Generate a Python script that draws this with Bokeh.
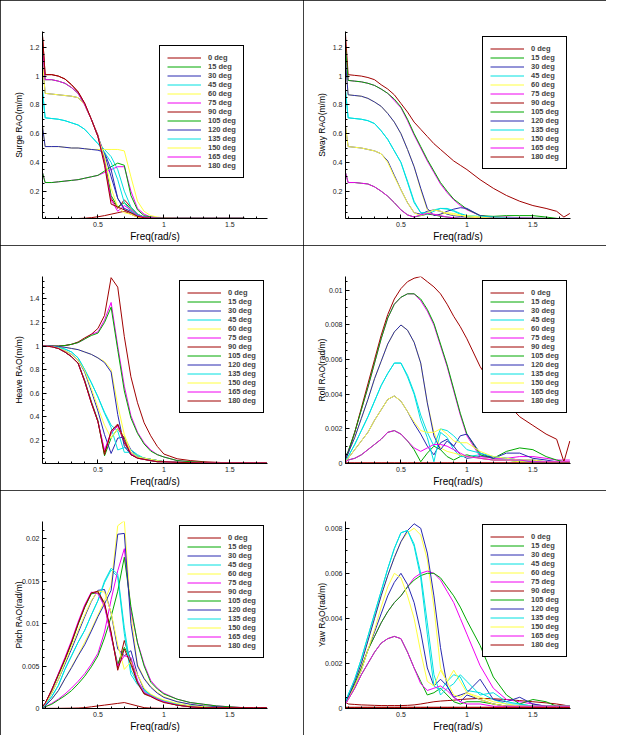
import numpy as np
from bokeh.plotting import figure
from bokeh.layouts import gridplot
from bokeh.models import FixedTicker
from bokeh.embed import file_html
from bokeh.resources import INLINE

# ---------------- data ----------------
FREQ = [0.08, 0.1, 0.15, 0.2, 0.25, 0.3, 0.35, 0.4, 0.45, 0.5,
        0.55, 0.6, 0.65, 0.7, 0.75, 0.8, 0.85, 0.9, 0.95, 1.0,
        1.1, 1.2, 1.3, 1.4, 1.5, 1.6, 1.68, 1.735, 1.78]

HEADINGS = ["0 deg", "15 deg", "30 deg", "45 deg", "60 deg", "75 deg", "90 deg",
            "105 deg", "120 deg", "135 deg", "150 deg", "165 deg", "180 deg"]

SURGE = [
    [1.28,1.01,1.01,1.00,0.98,0.94,0.89,0.81,0.70,0.59, 0.41,0.15,0.08,0.14,0.09,0.04,0.020,0.015,0.012,0.012, 0.011,0.011,0.011,0.011,0.011,0.011,0.005,0.005,0.005],
    [1.20,0.975,0.975,0.965,0.95,0.92,0.88,0.80,0.70,0.58, 0.42,0.17,0.09,0.12,0.08,0.035,0.02,0.015,0.012,0.011, 0.011,0.011,0.011,0.011,0.011,0.011,0.005,0.005,0.005],
    [1.10,0.88,0.875,0.87,0.865,0.86,0.85,0.80,0.70,0.58, 0.46,0.30,0.15,0.07,0.05,0.03,0.02,0.015,0.012,0.011, 0.011,0.011,0.011,0.011,0.011,0.011,0.005,0.005,0.005],
    [0.90,0.71,0.705,0.70,0.69,0.675,0.66,0.63,0.58,0.53, 0.49,0.44,0.35,0.20,0.09,0.04,0.02,0.015,0.012,0.011, 0.011,0.011,0.011,0.011,0.011,0.011,0.005,0.005,0.005],
    [0.65,0.51,0.51,0.51,0.505,0.50,0.50,0.495,0.49,0.49, 0.49,0.49,0.49,0.48,0.30,0.13,0.06,0.03,0.02,0.015, 0.011,0.011,0.011,0.011,0.011,0.011,0.005,0.005,0.005],
    [0.33,0.26,0.26,0.265,0.27,0.275,0.28,0.29,0.30,0.31, 0.33,0.35,0.37,0.37,0.20,0.08,0.04,0.02,0.015,0.012, 0.011,0.011,0.011,0.011,0.011,0.011,0.005,0.005,0.005],
    [0.005,0.005,0.005,0.005,0.005,0.008,0.010,0.012,0.016,0.022, 0.030,0.040,0.050,0.060,0.040,0.020,0.010,0.005,0.005,0.005, 0.005,0.005,0.005,0.005,0.005,0.005,0.005,0.005,0.005],
    [0.33,0.26,0.26,0.265,0.27,0.275,0.28,0.29,0.30,0.31, 0.34,0.37,0.395,0.38,0.17,0.07,0.03,0.02,0.015,0.012, 0.011,0.011,0.011,0.011,0.011,0.011,0.005,0.005,0.005],
    [0.65,0.51,0.51,0.51,0.505,0.50,0.50,0.495,0.49,0.485, 0.47,0.35,0.15,0.08,0.06,0.03,0.02,0.015,0.012,0.011, 0.011,0.011,0.011,0.011,0.011,0.011,0.005,0.005,0.005],
    [0.90,0.71,0.705,0.70,0.69,0.675,0.66,0.63,0.58,0.53, 0.47,0.40,0.28,0.12,0.06,0.03,0.02,0.015,0.012,0.011, 0.011,0.011,0.011,0.011,0.011,0.011,0.005,0.005,0.005],
    [1.10,0.88,0.875,0.87,0.865,0.86,0.85,0.80,0.70,0.58, 0.44,0.22,0.09,0.05,0.04,0.02,0.015,0.012,0.011,0.011, 0.011,0.011,0.011,0.011,0.011,0.011,0.005,0.005,0.005],
    [1.20,0.975,0.975,0.965,0.95,0.92,0.88,0.80,0.70,0.58, 0.40,0.14,0.06,0.10,0.07,0.03,0.02,0.015,0.012,0.011, 0.011,0.011,0.011,0.011,0.011,0.011,0.005,0.005,0.005],
    [1.28,1.01,1.01,1.00,0.98,0.94,0.89,0.81,0.70,0.58, 0.38,0.11,0.09,0.07,0.05,0.025,0.015,0.012,0.011,0.011, 0.011,0.011,0.011,0.011,0.011,0.011,0.005,0.005,0.005],
]

SWAY = [
    [0.004,0.004,0.004,0.004,0.004,0.004,0.004,0.004,0.004,0.004, 0.004,0.004,0.004,0.004,0.004,0.004,0.004,0.004,0.004,0.004, 0.004,0.004,0.004,0.004,0.004,0.004,0.004,0.004,0.004],
    [0.33,0.26,0.26,0.255,0.25,0.23,0.20,0.165,0.12,0.07, 0.035,0.02,0.03,0.04,0.035,0.025,0.02,0.015,0.012,0.011, 0.011,0.011,0.011,0.011,0.011,0.005,0.005,0.005,0.005],
    [0.65,0.51,0.505,0.50,0.49,0.48,0.46,0.41,0.31,0.21, 0.12,0.05,0.04,0.06,0.07,0.06,0.04,0.03,0.025,0.02, 0.015,0.012,0.011,0.011,0.011,0.005,0.005,0.005,0.005],
    [0.90,0.71,0.705,0.70,0.69,0.67,0.62,0.56,0.48,0.40, 0.27,0.13,0.05,0.04,0.06,0.08,0.075,0.06,0.04,0.025, 0.02,0.02,0.015,0.012,0.011,0.011,0.005,0.005,0.005],
    [1.10,0.87,0.865,0.86,0.845,0.82,0.79,0.74,0.68,0.60, 0.49,0.37,0.21,0.07,0.03,0.04,0.05,0.045,0.035,0.02, 0.015,0.012,0.011,0.011,0.011,0.011,0.005,0.005,0.005],
    [1.20,0.97,0.965,0.96,0.95,0.935,0.91,0.88,0.83,0.78, 0.69,0.59,0.50,0.41,0.33,0.25,0.19,0.14,0.10,0.07, 0.03,0.02,0.02,0.015,0.012,0.011,0.005,0.005,0.005],
    [1.29,1.01,1.005,1.00,0.99,0.975,0.94,0.91,0.87,0.81, 0.75,0.68,0.63,0.58,0.53,0.49,0.45,0.41,0.38,0.35, 0.28,0.22,0.17,0.13,0.10,0.08,0.06,0.02,0.045],
    [1.20,0.97,0.965,0.96,0.95,0.935,0.91,0.88,0.84,0.785, 0.70,0.60,0.51,0.42,0.34,0.26,0.20,0.145,0.11,0.075, 0.03,0.025,0.03,0.03,0.03,0.02,0.011,0.005,0.005],
    [1.10,0.87,0.865,0.86,0.845,0.82,0.79,0.74,0.68,0.60, 0.49,0.37,0.22,0.08,0.03,0.04,0.06,0.075,0.085,0.08, 0.03,0.015,0.012,0.011,0.011,0.011,0.005,0.005,0.005],
    [0.90,0.71,0.705,0.70,0.69,0.67,0.62,0.56,0.48,0.40, 0.26,0.12,0.05,0.05,0.07,0.08,0.08,0.065,0.045,0.03, 0.025,0.02,0.015,0.012,0.011,0.011,0.005,0.005,0.005],
    [0.65,0.51,0.505,0.50,0.49,0.48,0.46,0.40,0.30,0.21, 0.12,0.05,0.03,0.05,0.07,0.06,0.045,0.035,0.03,0.03, 0.02,0.012,0.011,0.011,0.011,0.011,0.005,0.005,0.005],
    [0.33,0.26,0.26,0.255,0.25,0.23,0.20,0.165,0.12,0.07, 0.035,0.02,0.035,0.045,0.04,0.03,0.02,0.015,0.012,0.011, 0.011,0.011,0.011,0.011,0.011,0.005,0.005,0.005,0.005],
    [0.004,0.004,0.004,0.004,0.004,0.004,0.004,0.004,0.004,0.004, 0.004,0.004,0.004,0.004,0.004,0.004,0.004,0.004,0.004,0.004, 0.004,0.004,0.004,0.004,0.004,0.004,0.004,0.004,0.004],
]

HEAVE = [
    [1.0,1.0,0.995,0.98,0.95,0.91,0.855,0.70,0.52,0.36, 0.10,0.26,0.33,0.18,0.08,0.05,0.04,0.03,0.02,0.02, 0.015,0.012,0.01,0.01,0.01,0.01,0.01,0.01,0.01],
    [1.0,1.0,0.995,0.98,0.95,0.91,0.855,0.71,0.53,0.37, 0.07,0.22,0.30,0.22,0.10,0.06,0.04,0.03,0.02,0.02, 0.015,0.012,0.01,0.01,0.01,0.01,0.01,0.01,0.01],
    [1.0,1.0,0.995,0.985,0.96,0.93,0.88,0.78,0.62,0.45, 0.25,0.09,0.22,0.23,0.12,0.07,0.05,0.04,0.03,0.02, 0.015,0.012,0.01,0.01,0.01,0.01,0.01,0.01,0.01],
    [1.0,1.0,0.997,0.99,0.975,0.95,0.90,0.80,0.69,0.57, 0.43,0.31,0.12,0.14,0.12,0.08,0.05,0.04,0.03,0.02, 0.015,0.012,0.01,0.01,0.01,0.01,0.01,0.01,0.01],
    [1.0,1.0,1.0,0.995,0.99,0.98,0.97,0.95,0.93,0.90, 0.87,0.80,0.50,0.25,0.10,0.07,0.05,0.04,0.03,0.02, 0.015,0.012,0.01,0.01,0.01,0.01,0.01,0.01,0.01],
    [1.0,1.0,1.0,1.0,1.005,1.015,1.03,1.06,1.10,1.12, 1.22,1.37,1.00,0.66,0.41,0.27,0.18,0.12,0.08,0.06, 0.03,0.02,0.015,0.01,0.01,0.01,0.01,0.01,0.01],
    [1.0,1.0,1.0,1.0,1.005,1.015,1.035,1.07,1.10,1.15, 1.26,1.58,1.50,1.08,0.74,0.52,0.35,0.24,0.15,0.085, 0.045,0.03,0.02,0.015,0.01,0.01,0.01,0.01,0.01],
    [1.0,1.0,1.0,1.0,1.005,1.015,1.03,1.06,1.09,1.11, 1.20,1.33,0.97,0.62,0.39,0.26,0.17,0.11,0.08,0.06, 0.03,0.02,0.015,0.01,0.01,0.01,0.01,0.01,0.01],
    [1.0,1.0,1.0,0.995,0.99,0.98,0.97,0.95,0.93,0.90, 0.86,0.78,0.42,0.15,0.08,0.06,0.05,0.04,0.03,0.02, 0.015,0.012,0.01,0.01,0.01,0.01,0.01,0.01,0.01],
    [1.0,1.0,0.997,0.99,0.975,0.95,0.90,0.80,0.69,0.57, 0.44,0.33,0.28,0.10,0.10,0.07,0.05,0.04,0.03,0.02, 0.015,0.012,0.01,0.01,0.01,0.01,0.01,0.01,0.01],
    [1.0,1.0,0.995,0.985,0.96,0.93,0.88,0.79,0.64,0.48, 0.33,0.22,0.30,0.24,0.10,0.06,0.05,0.04,0.03,0.02, 0.015,0.012,0.01,0.01,0.01,0.01,0.01,0.01,0.01],
    [1.0,1.0,0.995,0.98,0.95,0.91,0.855,0.70,0.52,0.36, 0.12,0.27,0.32,0.20,0.09,0.05,0.04,0.03,0.02,0.02, 0.015,0.012,0.01,0.01,0.01,0.01,0.01,0.01,0.01],
    [1.0,1.0,0.995,0.98,0.95,0.91,0.855,0.70,0.52,0.36, 0.08,0.28,0.34,0.20,0.08,0.05,0.04,0.03,0.02,0.02, 0.015,0.012,0.01,0.01,0.01,0.01,0.01,0.01,0.01],
]

ROLL = [
    [0.00003,0.00003,0.00003,0.00003,0.00003,0.00003,0.00003,0.00003,0.00003,0.00003, 0.00003,0.00003,0.00003,0.00003,0.00003,0.00003,0.00003,0.00003,0.00003,0.00003, 0.00003,0.00003,0.00003,0.00003,0.00003,0.00003,0.00003,0.00003,0.00003],
    [0.0001,0.0002,0.0003,0.0005,0.0008,0.0011,0.0014,0.0018,0.0019,0.0017, 0.0013,0.0008,0.0001,0.0006,0.0010,0.0008,0.0004,0.0002,0.0004,0.0005, 0.0003,0.0002,0.0002,0.0001,0.0001,0.0001,0.0001,0.0001,0.0001],
    [0.0001,0.0003,0.0008,0.0013,0.0018,0.0025,0.0031,0.0037,0.0039,0.0036, 0.0030,0.0023,0.0017,0.0010,0.0005,0.0012,0.0014,0.0010,0.0005,0.0003, 0.0004,0.0004,0.0003,0.0002,0.0002,0.0001,0.0001,0.0001,0.0001],
    [0.0002,0.0004,0.0011,0.0019,0.0027,0.0036,0.0045,0.0052,0.0058,0.0058, 0.0050,0.0040,0.0025,0.0015,0.0001,0.0018,0.0015,0.0008,0.0004,0.0004, 0.0005,0.0003,0.0002,0.0002,0.0001,0.0001,0.0001,0.0001,0.0001],
    [0.0003,0.0006,0.0015,0.0026,0.0037,0.0049,0.0059,0.0069,0.0076,0.0080, 0.0077,0.0070,0.0058,0.0035,0.0018,0.0009,0.0007,0.0006,0.0005,0.0004, 0.0003,0.0002,0.0002,0.0001,0.0001,0.0001,0.0001,0.0001,0.0001],
    [0.0004,0.0007,0.0018,0.0031,0.0044,0.0058,0.0072,0.0084,0.0092,0.0096, 0.0098,0.0098,0.0094,0.0088,0.0080,0.0068,0.0056,0.0042,0.0028,0.0016, 0.0004,0.0003,0.0003,0.0004,0.0004,0.0003,0.0002,0.0002,0.0002],
    [0.0002,0.0006,0.0018,0.0032,0.0046,0.0060,0.0074,0.0086,0.0095,0.0101, 0.0105,0.0107,0.0108,0.0105,0.0102,0.0098,0.0092,0.0085,0.0079,0.0072, 0.0056,0.0044,0.0035,0.0027,0.0022,0.0017,0.0014,0.0001,0.0013],
    [0.0004,0.0007,0.0018,0.0031,0.0044,0.0058,0.0072,0.0084,0.0092,0.0096, 0.0098,0.0098,0.0095,0.0089,0.0081,0.0069,0.0057,0.0043,0.0029,0.0017, 0.0005,0.0003,0.0007,0.0009,0.0008,0.0004,0.0002,0.0001,0.0001],
    [0.0003,0.0006,0.0015,0.0026,0.0037,0.0049,0.0059,0.0069,0.0076,0.0080, 0.0077,0.0070,0.0058,0.0035,0.0016,0.0008,0.0013,0.0010,0.0016,0.0017, 0.0006,0.0003,0.0006,0.0006,0.0003,0.0002,0.0001,0.0001,0.0001],
    [0.0002,0.0004,0.0011,0.0019,0.0027,0.0036,0.0045,0.0052,0.0058,0.0058, 0.0051,0.0041,0.0028,0.0018,0.0010,0.0020,0.0019,0.0016,0.0012,0.0008, 0.0006,0.0004,0.0003,0.0002,0.0001,0.0001,0.0001,0.0001,0.0001],
    [0.0001,0.0003,0.0008,0.0013,0.0018,0.0025,0.0031,0.0037,0.0039,0.0036, 0.0030,0.0024,0.0019,0.0018,0.0018,0.0020,0.0017,0.0013,0.0012,0.0012, 0.0007,0.0004,0.0003,0.0002,0.0002,0.0001,0.0001,0.0001,0.0001],
    [0.0001,0.0002,0.0003,0.0005,0.0008,0.0011,0.0014,0.0018,0.0019,0.0017, 0.0013,0.0009,0.0007,0.0009,0.0011,0.0011,0.0010,0.0008,0.0006,0.0004, 0.0003,0.0002,0.0002,0.0002,0.0001,0.0001,0.0001,0.0001,0.0001],
    [0.00003,0.00003,0.00003,0.00003,0.00003,0.00003,0.00003,0.00003,0.00003,0.00003, 0.00003,0.00003,0.00003,0.00003,0.00003,0.00003,0.00003,0.00003,0.00003,0.00003, 0.00003,0.00003,0.00003,0.00003,0.00003,0.00003,0.00003,0.00003,0.00003],
]

PITCH = [
    [0.0002,0.0006,0.0022,0.0040,0.0058,0.0078,0.0100,0.0120,0.0136,0.0137, 0.0122,0.0088,0.0048,0.0080,0.0056,0.0031,0.0018,0.0015,0.0011,0.0008, 0.0004,0.0002,0.0001,0.0001,0.0001,0.0001,0.0001,0.0001,0.0001],
    [0.0002,0.0006,0.0021,0.0039,0.0057,0.0077,0.0099,0.0119,0.0135,0.0136, 0.0122,0.0086,0.0052,0.0072,0.0058,0.0031,0.0018,0.0015,0.0011,0.0008, 0.0004,0.0002,0.0001,0.0001,0.0001,0.0001,0.0001,0.0001,0.0001],
    [0.0002,0.0005,0.0018,0.0034,0.0052,0.0070,0.0089,0.0108,0.0126,0.0139, 0.0140,0.0112,0.0070,0.0062,0.0068,0.0040,0.0022,0.0016,0.0012,0.0009, 0.0005,0.0003,0.0002,0.0001,0.0001,0.0001,0.0001,0.0001,0.0001],
    [0.0001,0.0004,0.0014,0.0027,0.0046,0.0062,0.0078,0.0092,0.0110,0.0127, 0.0148,0.0163,0.0155,0.0088,0.0040,0.0028,0.0020,0.0016,0.0012,0.0009, 0.0005,0.0003,0.0002,0.0001,0.0001,0.0001,0.0001,0.0001,0.0001],
    [0.0001,0.0003,0.0011,0.0021,0.0035,0.0049,0.0063,0.0078,0.0093,0.0110, 0.0127,0.0145,0.0215,0.0221,0.0110,0.0052,0.0036,0.0026,0.0019,0.0014, 0.0008,0.0005,0.0003,0.0002,0.0001,0.0001,0.0001,0.0001,0.0001],
    [0.0001,0.0002,0.0006,0.0011,0.0017,0.0024,0.0032,0.0041,0.0052,0.0065, 0.0090,0.0128,0.0162,0.0188,0.0115,0.0078,0.0052,0.0033,0.0024,0.0018, 0.0011,0.0007,0.0005,0.0003,0.0002,0.0001,0.0001,0.0001,0.0001],
    [0.00002,0.00002,0.00002,0.00002,0.00003,0.00004,0.00006,0.0001,0.0002,0.0003, 0.0004,0.0005,0.0006,0.0007,0.0005,0.0003,0.0001,0.00005,0.00003,0.00002, 0.00002,0.00002,0.00002,0.00002,0.00002,0.00002,0.00002,0.00002,0.00002],
    [0.0001,0.0002,0.0005,0.0010,0.0015,0.0021,0.0029,0.0038,0.0049,0.0062, 0.0083,0.0108,0.0138,0.0178,0.0120,0.0077,0.0050,0.0031,0.0023,0.0017, 0.0011,0.0007,0.0005,0.0003,0.0002,0.0001,0.0001,0.0001,0.0001],
    [0.0001,0.0003,0.0011,0.0021,0.0035,0.0048,0.0062,0.0075,0.0091,0.0108, 0.0123,0.0139,0.0205,0.0206,0.0100,0.0050,0.0035,0.0025,0.0018,0.0013, 0.0008,0.0005,0.0003,0.0002,0.0001,0.0001,0.0001,0.0001,0.0001],
    [0.0001,0.0004,0.0014,0.0027,0.0046,0.0062,0.0078,0.0092,0.0110,0.0127, 0.0150,0.0165,0.0158,0.0095,0.0045,0.0030,0.0022,0.0016,0.0012,0.0009, 0.0005,0.0003,0.0002,0.0001,0.0001,0.0001,0.0001,0.0001,0.0001],
    [0.0002,0.0005,0.0018,0.0034,0.0054,0.0073,0.0092,0.0110,0.0127,0.0138, 0.0137,0.0113,0.0075,0.0046,0.0055,0.0040,0.0024,0.0017,0.0013,0.0010, 0.0006,0.0003,0.0002,0.0001,0.0001,0.0001,0.0001,0.0001,0.0001],
    [0.0002,0.0006,0.0022,0.0041,0.0060,0.0080,0.0102,0.0122,0.0137,0.0135, 0.0120,0.0085,0.0050,0.0062,0.0060,0.0033,0.0019,0.0015,0.0011,0.0008, 0.0004,0.0002,0.0001,0.0001,0.0001,0.0001,0.0001,0.0001,0.0001],
    [0.0002,0.0006,0.0022,0.0040,0.0058,0.0078,0.0100,0.0120,0.0136,0.0138, 0.0124,0.0090,0.0045,0.0070,0.0052,0.0030,0.0017,0.0014,0.0010,0.0007, 0.0004,0.0002,0.0001,0.0001,0.0001,0.0001,0.0001,0.0001,0.0001],
]

YAW = [
    [0.0003,0.0002,0.00018,0.00016,0.00015,0.00014,0.00013,0.00013,0.00013,0.00013, 0.00014,0.00016,0.0002,0.00025,0.0003,0.00033,0.00035,0.00037,0.0004,0.00042, 0.00045,0.00043,0.0004,0.00035,0.0003,0.00025,0.0002,0.00015,0.0001],
    [0.0002,0.0004,0.0009,0.0015,0.0020,0.0025,0.0029,0.0031,0.0032,0.0031, 0.0025,0.0018,0.0012,0.0006,0.0007,0.0009,0.0006,0.0003,0.0002,0.0003, 0.0003,0.0002,0.0001,0.0001,0.0001,0.0001,0.0001,0.0001,0.0001],
    [0.0002,0.0004,0.0010,0.0017,0.0026,0.0034,0.0042,0.0050,0.0056,0.0060, 0.0055,0.0047,0.0034,0.0018,0.0010,0.0013,0.0010,0.0005,0.0003,0.0006, 0.0004,0.0002,0.0001,0.0001,0.0001,0.0001,0.0001,0.0001,0.0001],
    [0.0003,0.0006,0.0013,0.0022,0.0032,0.0042,0.0052,0.0062,0.0071,0.0078, 0.0079,0.0072,0.0058,0.0033,0.0010,0.0008,0.0012,0.0015,0.0014,0.0008, 0.0007,0.0004,0.0002,0.0002,0.0001,0.0001,0.0001,0.0001,0.0001],
    [0.0003,0.0005,0.0012,0.0020,0.0030,0.0040,0.0050,0.0059,0.0067,0.0074, 0.0078,0.0080,0.0077,0.0066,0.0045,0.0018,0.0012,0.0017,0.0012,0.0007, 0.0005,0.0003,0.0002,0.0001,0.0001,0.0001,0.0001,0.0001,0.0001],
    [0.0003,0.0005,0.0011,0.0018,0.0026,0.0032,0.0038,0.0043,0.0047,0.0050, 0.0054,0.0058,0.0060,0.0061,0.0060,0.0057,0.0052,0.0047,0.0040,0.0033, 0.0019,0.0009,0.0004,0.0003,0.0002,0.0001,0.0001,0.0001,0.0001],
    [0.00005,0.00005,0.00005,0.00005,0.00005,0.00005,0.00005,0.00005,0.00005,0.00005, 0.00005,0.00005,0.00005,0.00005,0.00005,0.00005,0.00005,0.00005,0.00005,0.00005, 0.00005,0.00005,0.00005,0.00005,0.00005,0.00005,0.00005,0.00005,0.00005],
    [0.0003,0.0005,0.0011,0.0018,0.0026,0.0032,0.0038,0.0043,0.0047,0.0050, 0.0054,0.0057,0.0059,0.0060,0.0060,0.0058,0.0054,0.0050,0.0045,0.0039, 0.0028,0.0014,0.0006,0.0002,0.0004,0.0003,0.0001,0.0001,0.0001],
    [0.0003,0.0005,0.0012,0.0020,0.0030,0.0040,0.0050,0.0059,0.0067,0.0074, 0.0079,0.0082,0.0080,0.0069,0.0050,0.0027,0.0010,0.0005,0.0006,0.0007, 0.0013,0.0004,0.0003,0.0005,0.0002,0.0001,0.0001,0.0001,0.0001],
    [0.0003,0.0006,0.0013,0.0022,0.0032,0.0042,0.0052,0.0062,0.0071,0.0078, 0.0079,0.0073,0.0060,0.0038,0.0015,0.0006,0.0009,0.0011,0.0015,0.0012, 0.0006,0.0007,0.0003,0.0002,0.0001,0.0001,0.0001,0.0001,0.0001],
    [0.0002,0.0004,0.0010,0.0017,0.0026,0.0035,0.0045,0.0054,0.0060,0.0058, 0.0050,0.0040,0.0025,0.0012,0.0010,0.0017,0.0012,0.0006,0.0005,0.0007, 0.0004,0.0002,0.0001,0.0001,0.0001,0.0001,0.0001,0.0001,0.0001],
    [0.0002,0.0004,0.0009,0.0015,0.0020,0.0025,0.0029,0.0031,0.0032,0.0031, 0.0025,0.0018,0.0011,0.0008,0.0009,0.0010,0.0008,0.0005,0.0003,0.0002, 0.0002,0.0001,0.0001,0.0001,0.0001,0.0001,0.0001,0.0001,0.0001],
    [0.00005,0.00005,0.00005,0.00005,0.00005,0.00005,0.00005,0.00005,0.00005,0.00005, 0.00005,0.00005,0.00005,0.00005,0.00005,0.00005,0.00005,0.00005,0.00005,0.00005, 0.00005,0.00005,0.00005,0.00005,0.00005,0.00005,0.00005,0.00005,0.00005],
]

X_TICKS = [0.5, 1.0, 1.5]
X_TICK_LABELS = ["0.5", "1", "1.5"]

SURGE_TICKS = [0.2, 0.4, 0.6, 0.8, 1.0, 1.2]
SURGE_TICK_LABELS = ["0.2", "0.4", "0.6", "0.8", "1", "1.2"]
HEAVE_TICKS = [0.2, 0.4, 0.6, 0.8, 1.0, 1.2, 1.4]
HEAVE_TICK_LABELS = ["0.2", "0.4", "0.6", "0.8", "1", "1.2", "1.4"]
ROLL_TICKS = [0.0, 0.002, 0.004, 0.006, 0.008, 0.01]
ROLL_TICK_LABELS = ["0", "0.002", "0.004", "0.006", "0.008", "0.01"]
PITCH_TICKS = [0.0, 0.005, 0.01, 0.015, 0.02]
PITCH_TICK_LABELS = ["0", "0.005", "0.01", "0.015", "0.02"]
YAW_TICKS = [0.0, 0.002, 0.004, 0.006, 0.008]
YAW_TICK_LABELS = ["0", "0.002", "0.004", "0.006", "0.008"]

# ---------------- style ----------------
COLORS = ["#a00000", "#00a800", "#2828b0", "#00e0e0", "#ffff40", "#f000f0",
          "#a00000", "#00a800", "#2828b0", "#00e0e0", "#ffff40", "#f000f0", "#a00000"]
FONT = "Liberation Sans"
W, H = 303, 245


def panel(ylabel, series, yr, ticks, labels, minor_step, legend_xy, label_standoff):
    p = figure(width=W, height=H, x_range=(0.08, 1.785), y_range=yr,
               output_backend="svg", toolbar_location=None,
               min_border_left=42, min_border_right=36,
               min_border_top=31, min_border_bottom=27)
    for name, col, vals in zip(HEADINGS, COLORS, series):
        assert len(vals) == len(FREQ), (ylabel, name, len(vals))
        p.line(FREQ, vals, line_color=col, line_width=1, legend_label=name)
    p.grid.visible = False
    p.outline_line_color = None
    p.styles = {"outline": "1px solid black", "outline-offset": "-1px"}

    xminor = list(np.round(np.arange(0.1, 1.8, 0.1), 3))
    p.xaxis.ticker = FixedTicker(ticks=X_TICKS, minor_ticks=xminor)
    p.xaxis.major_label_overrides = {t: l for t, l in zip(X_TICKS, X_TICK_LABELS)}
    yminor = list(np.round(np.arange(0.0, yr[1], minor_step), 6))
    p.yaxis.ticker = FixedTicker(ticks=ticks, minor_ticks=yminor)
    p.yaxis.major_label_overrides = {t: l for t, l in zip(ticks, labels)}

    for ax in (p.xaxis[0], p.yaxis[0]):
        ax.axis_line_color = "black"
        ax.major_tick_in = 4
        ax.major_tick_out = 0
        ax.minor_tick_in = 2
        ax.minor_tick_out = 0
        ax.major_tick_line_color = "black"
        ax.minor_tick_line_color = "black"
        ax.major_label_text_font = FONT
        ax.major_label_text_font_size = "7px"
        ax.major_label_text_color = "#222222"
        ax.major_label_standoff = 3
        ax.axis_label_text_font = FONT
        ax.axis_label_text_font_style = "normal"
        ax.axis_label_text_color = "black"
    p.xaxis.axis_label = "Freq(rad/s)"
    p.xaxis.axis_label_text_font_size = "10px"
    p.xaxis.axis_label_standoff = 1
    p.yaxis.axis_label = ylabel
    p.yaxis.axis_label_text_font_size = "8.5px"
    p.yaxis.axis_label_standoff = label_standoff

    lg = p.legend[0]
    lg.location = legend_xy
    lg.border_line_color = "black"
    lg.border_line_width = 1
    lg.border_line_alpha = 1
    lg.background_fill_color = "white"
    lg.background_fill_alpha = 1
    lg.padding = 7
    lg.spacing = 0
    lg.margin = 0
    lg.glyph_width = 34
    lg.glyph_height = 9
    lg.label_height = 9
    lg.label_standoff = 7
    lg.label_text_font = FONT
    lg.label_text_font_size = "7.5px"
    lg.label_text_font_style = "bold"
    lg.label_text_line_height = 1.0
    return p


p1 = panel("Surge RAO(m/m)", SURGE, (0.01, 1.31), SURGE_TICKS, SURGE_TICK_LABELS, 0.05, (117, 40), 3)
p2 = panel("Sway RAO(m/m)", SWAY, (0.01, 1.31), SURGE_TICKS, SURGE_TICK_LABELS, 0.05, (137, 49), 3)
p3 = panel("Heave RAO(m/m)", HEAVE, (0.005, 1.59), HEAVE_TICKS, HEAVE_TICK_LABELS, 0.05, (137, 50), 3)
p4 = panel("Roll RAO(rad/m)", ROLL, (0.0, 0.0108), ROLL_TICKS, ROLL_TICK_LABELS, 0.0005, (137, 50), -5)
p5 = panel("Pitch RAO(rad/m)", PITCH, (0.0, 0.022), PITCH_TICKS, PITCH_TICK_LABELS, 0.001, (137, 50), -5)
p6 = panel("Yaw RAO(rad/m)", YAW, (0.0, 0.0083), YAW_TICKS, YAW_TICK_LABELS, 0.0005, (137, 51), -5)

grid = gridplot([[p1, p2], [p3, p4], [p5, p6]], toolbar_location=None)

with open("out.html", "w") as f:
    f.write(file_html(grid, INLINE))
